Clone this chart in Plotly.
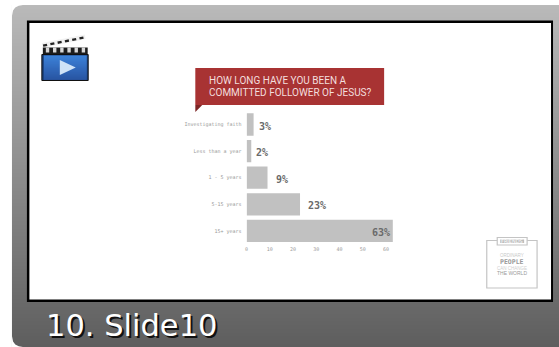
import plotly.graph_objects as go

W, H = 559, 347
categories = ["Investigating faith", "Less than a year", "1 - 5 years", "5-15 years", "15+ years"]
values = [3, 2, 9, 23, 63]
value_labels = ["3%", "2%", "9%", "23%", "63%"]
x_ticks = [0, 10, 20, 30, 40, 50, 60]


def px(x):
    return x / W


def py(y):
    return 1 - y / H


def path_px(points):
    return "M " + " L ".join(f"{px(a):.5f},{py(b):.5f}" for a, b in points) + " Z"


shapes = []


def rect(x0, y0, x1, y1, fill, line=None, lw=0, layer="below"):
    shapes.append(dict(type="rect", xref="paper", yref="paper", x0=px(x0), x1=px(x1),
                       y0=py(y1), y1=py(y0), fillcolor=fill, layer=layer,
                       line=dict(color=line or fill, width=lw)))


def poly(points, fill, layer="below"):
    shapes.append(dict(type="path", xref="paper", yref="paper", path=path_px(points),
                       fillcolor=fill, line=dict(width=0), layer=layer))


# gradient panel
for y in range(5, 347):
    t = (y - 5) / 342
    g = int(186 + (94 - 186) * t)
    rect(10, y, 559, y + 1.2, f"rgb({g},{g},{g})")

# rounded outer corners painted with page white
r = 11
top = [(10, 5), (10 + r, 5), (10 + r * 0.62, 5.8), (10 + r * 0.3, 7.6), (10 + r * 0.1, 10.5), (10, 5 + r)]
poly(top, "white")
bot = [(10, 347), (10 + r, 347), (10 + r * 0.62, 346.2), (10 + r * 0.3, 344.4), (10 + r * 0.1, 341.5), (10, 347 - r)]
poly(bot, "white")

# slide frame
rect(25, 20.5, 553, 302, "black")
rect(27.5, 23, 551, 299.5, "white")

# title callout
rect(194, 68, 383.5, 105, "#a83333")
poly([(194, 105), (194, 112), (201, 105)], "#7e2626")

# movie icon: clapper arm with dashes
poly([(40, 43), (83, 34.5), (84, 39), (41, 48)], "#f2f2f2")
for i in range(6):
    x = 41 + i * 7.3
    poly([(x, 44.5 - i * 1.45), (x + 4, 43.7 - i * 1.45), (x + 4.5, 46 - i * 1.45), (x + 0.5, 46.8 - i * 1.45)], "#222222")
rect(41, 47.5, 86, 54.5, "#1c1c1c")
for i in range(6):
    rect(44 + i * 7.2, 47.5, 47.4 + i * 7.2, 52.5, "#d8d8d8")
rect(40, 54.5, 86.5, 80.5, "#1b3f78", "#111111", 1)
for i in range(24):
    g = i / 23
    c = f"rgb({int(66 - 22 * g)},{int(140 - 50 * g)},{int(230 - 60 * g)})"
    rect(42, 55.5 + i, 85, 56.7 + i, c)
poly([(58, 60), (58, 75), (74, 67.5)], "#cfe3f7")

# logo box
rect(486.5, 240.5, 537, 288, "white", "#c4c4c4", 1.2)
rect(497, 237.5, 527, 245, "white", "#c4c4c4", 1.2)
rect(500, 239.5, 524, 243, "#bdbdbd")

fig = go.Figure(go.Bar(
    y=categories, x=values, orientation="h",
    marker=dict(color="#c1c1c1", line=dict(width=0)),
    width=0.84, hoverinfo="skip",
))

annotations = []
for cat, v, label in zip(categories, values, value_labels):
    inside = v > 60
    annotations.append(dict(
        x=v, y=cat, xref="x", yref="y", text=f"<b>{label}</b>", showarrow=False,
        xanchor="right" if inside else "left", yshift=-1.5,
        xshift=-1 if inside else (3 if v < 5 else 6),
        font=dict(family="DejaVu Sans Mono", size=10, color="#6a6a6a"),
    ))


def txt(x, y, s, size, color, family, anchor="left", **font_extra):
    annotations.append(dict(x=px(x), y=py(y), xref="paper", yref="paper", text=s, showarrow=False,
                            xanchor=anchor, yanchor="middle", borderpad=0,
                            font=dict(family=family, size=size, color=color, **font_extra)))


head = "Roboto"
txt(206.5, 80.5, "HOW LONG HAVE YOU BEEN A", 10, "#f3dede", head)
txt(206.5, 92, "COMMITTED FOLLOWER OF JESUS?", 10, "#f3dede", head)
txt(511.5, 241, "FRIENDS", 5, "#ffffff", "DejaVu Sans", "center")
txt(511.5, 255, "ORDINARY", 4.5, "#c9c9c9", "Liberation Sans", "center")
txt(511.5, 262, "<b>PEOPLE</b>", 6.5, "#9a9a9a", "DejaVu Sans Mono", "center")
txt(511.5, 268.5, "CAN CHANGE", 4.5, "#cfcfcf", "Liberation Sans", "center")
txt(511.5, 273, "THE WORLD", 5, "#9a9a9a", "Liberation Sans", "center")
txt(43.5, 325, "10. Slide10", 30.5, "white", "DejaVu Sans", shadow="2px 2px 0px #111111")

fig.update_layout(
    width=W, height=H, margin=dict(l=0, r=0, t=0, b=0), paper_bgcolor="white", plot_bgcolor="rgba(0,0,0,0)",
    showlegend=False, shapes=shapes, annotations=annotations,
    xaxis=dict(domain=[px(245.5), px(392.3)], range=[0, 63], tickvals=x_ticks, showgrid=False, zeroline=False,
               showline=False, ticks="", ticklabelstandoff=1,
               tickfont=dict(family="DejaVu Sans Mono", size=5, color="#9a9a9a"), anchor="y"),
    yaxis=dict(domain=[py(244.2), py(111.2)], autorange="reversed", showgrid=False, zeroline=False, showline=False,
               ticks="", ticklabelstandoff=4,
               tickfont=dict(family="DejaVu Sans Mono", size=5, color="#9a9a9a"), anchor="x"),
)

fig.write_html("out.html", post_script="document.body.style.margin='0';document.body.style.overflow='hidden';",
               config=dict(displayModeBar=False))
